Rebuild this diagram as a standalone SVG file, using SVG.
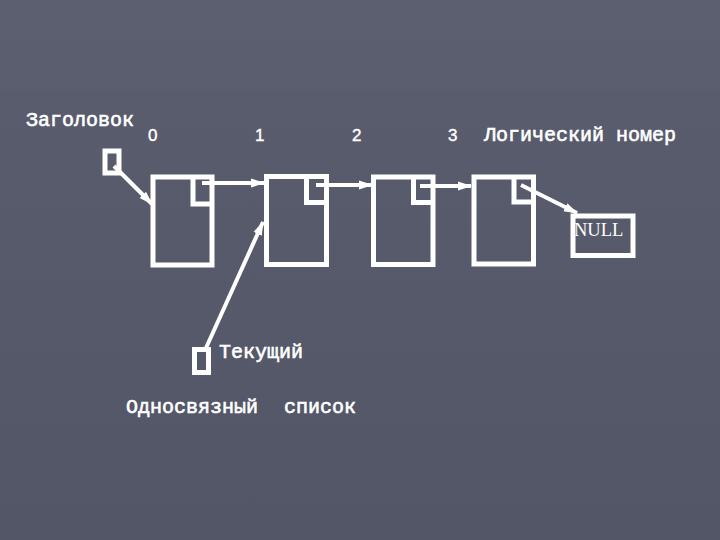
<svg xmlns="http://www.w3.org/2000/svg" width="720" height="540" viewBox="0 0 720 540">
<defs>
<linearGradient id="bg" x1="0" y1="0" x2="0" y2="1">
<stop offset="0" stop-color="#5c5f70"/>
<stop offset="0.16" stop-color="#5b5e6f"/>
<stop offset="0.17" stop-color="#595c6c"/>
<stop offset="1" stop-color="#535667"/>
</linearGradient>
<marker id="ah" markerUnits="userSpaceOnUse" markerWidth="14" markerHeight="10" refX="13" refY="5" orient="auto" viewBox="0 0 14 10">
<path d="M0,0.5 L14,5 L0,9.5 Z" fill="#ffffff"/>
</marker>
<style>
.box{fill:none;stroke:#ffffff;stroke-width:5}
.ptr{fill:none;stroke:#ffffff;stroke-width:5}
.lnk{stroke:#ffffff;stroke-width:4;fill:none;marker-end:url(#ah)}
.mono{font-family:"Liberation Mono","DejaVu Sans Mono",monospace;font-size:20px;fill:#ffffff;stroke:#ffffff;stroke-width:0.6}
.num{font-family:"Liberation Sans",Arial,sans-serif;font-size:17px;fill:#ffffff;stroke:#ffffff;stroke-width:0.4}
.ser{font-family:"Liberation Serif","Times New Roman",serif;font-size:18.5px;fill:#ffffff}
</style>
</defs>
<rect x="0" y="0" width="720" height="540" fill="url(#bg)"/>

<g id="labels">
<text class="mono" x="26" y="126">Заголовок</text>
<text class="num" x="148" y="141">0</text>
<text class="num" x="255" y="141">1</text>
<text class="num" x="352" y="141">2</text>
<text class="num" x="448" y="141">3</text>
<text class="mono" x="484" y="141">Логический номер</text>
<text class="mono" x="219" y="358">Текущий</text>
<text class="mono" y="413"><tspan x="126">Односвязный</tspan><tspan x="284">список</tspan></text>
</g>

<g id="header">
<rect class="ptr" x="105" y="151" width="14" height="22"/>
</g>
<g id="current">
<rect class="ptr" x="194.5" y="349.5" width="14" height="23"/>
</g>
<g id="node0">
<rect class="box" x="153" y="177" width="59" height="88"/>
<polyline class="box" points="193,177 193,204 212,204"/>
</g>
<g id="node1">
<rect class="box" x="266.5" y="176.5" width="60" height="88"/>
<polyline class="box" points="306.5,176.5 306.5,202.5 326.5,202.5"/>
</g>
<g id="node2">
<rect class="box" x="373.5" y="177" width="59.5" height="87.5"/>
<polyline class="box" points="413.5,177 413.5,202.5 433,202.5"/>
</g>
<g id="node3">
<rect class="box" x="474" y="177" width="59.5" height="87"/>
<polyline class="box" points="514,177 514,202 533.5,202"/>
</g>
<g id="null">
<rect class="box" x="573" y="216" width="60" height="39.5"/>
<text class="ser" x="574" y="236">NULL</text>
</g>

<g id="connectors">
<line class="lnk" x1="114" y1="166" x2="152" y2="204"/>
<line class="lnk" x1="202" y1="183" x2="264" y2="183"/>
<line class="lnk" x1="316" y1="185" x2="372" y2="185"/>
<line class="lnk" x1="420" y1="186" x2="471" y2="186"/>
<line class="lnk" x1="521" y1="185" x2="577" y2="213"/>
<line class="lnk" x1="206" y1="348" x2="263" y2="222"/>
</g>
</svg>
